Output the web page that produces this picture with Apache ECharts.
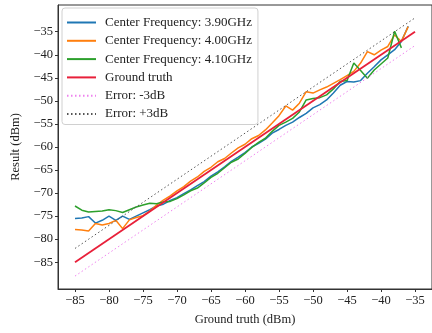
<!DOCTYPE html>
<html>
<head>
<meta charset="utf-8">
<script src="https://cdn.jsdelivr.net/npm/echarts@6/dist/echarts.min.js"></script>
<style>
  html, body { margin: 0; padding: 0; background: #fff; }
  #chart { width: 432px; height: 333px; }
</style>
</head>
<body>
<div id="chart"></div>
<script>
// measured x positions (dBm)
const xs = [-85, -84, -83, -82, -81, -80, -79, -78, -77, -76, -75, -74, -73, -72, -71, -70, -69, -68, -67, -66,
  -65, -64, -63, -62, -61, -60, -59, -58, -57, -56, -55, -54, -53, -52, -51, -50, -49, -48, -47, -46,
  -45, -44, -43, -42, -41, -40, -39, -38, -37, -36]

const f390 = [-75.5, -75.4, -75.1, -76.5, -75.9, -75.0, -75.9, -75.0, -75.7, -75.0, -74.3, -73.6, -72.8, -72.4, -71.6, -71.0, -70.1, -69.3, -68.4, -67.5,
  -66.3, -65.4, -64.3, -63.1, -62.2, -61.2, -60.0, -59.2, -58.3, -57.0, -56.2, -55.3, -54.6, -53.6, -52.7, -51.5, -50.8, -49.8, -48.3, -46.6,
  -45.8, -45.9, -45.6, -44.0, -42.6, -41.1, -40.0, -38.9, -37.1, -33.8]

const f400 = [-77.9, -78.0, -78.2, -76.6, -76.9, -76.6, -75.9, -77.7, -75.8, -75.3, -74.9, -73.9, -72.6, -71.5, -70.6, -69.5, -68.6, -67.4, -66.5, -65.3,
  -64.4, -63.2, -62.5, -61.3, -60.2, -59.4, -58.2, -57.5, -56.3, -54.8, -53.2, -51.1, -52.0, -50.5, -48.0, -48.3, -47.6, -47.0, -46.2, -45.4,
  -44.5, -43.6, -41.8, -39.3, -40.0, -39.0, -38.2, -35.7, -37.1, -33.9]

const f410 = [-72.8, -73.7, -74.1, -74.0, -73.9, -73.6, -73.8, -74.2, -73.6, -73.0, -72.6, -72.2, -72.3, -71.9, -71.8, -71.2, -70.4, -69.5, -68.9, -67.8,
  -66.6, -65.7, -64.5, -63.3, -62.6, -61.4, -60.1, -59.0, -58.1, -56.6, -55.3, -54.6, -53.8, -52.4, -49.8, -49.5, -49.3, -48.7, -47.4, -45.8,
  -45.6, -41.8, -43.4, -45.1, -43.3, -42.0, -40.7, -34.9, -38.5]

// reference lines (end points)
const gtX = [-85, -35]
const gtY = [-85, -35]
const errLowY = [-88, -38]
const errHighY = [-82, -32]

const ticks = [-85, -80, -75, -70, -65, -60, -55, -50, -45, -40, -35]

const pair = (x, y) => y.map((v, i) => [x[i], v])
const minus = v => String(v).replace('-', '\u2212')
const font = 'Liberation Serif'

const chart = echarts.init(document.getElementById('chart'))

const lineSeries = (name, data, color, width, type) => ({
  name,
  type: 'line',
  data,
  symbol: 'none',
  showSymbol: false,
  animation: false,
  lineStyle: { color, width, type: type || 'solid' },
  itemStyle: { color },
  z: 3
})

const axisCommon = {
  type: 'value',
  splitLine: { show: false },
  axisLine: { show: true, onZero: false, lineStyle: { color: '#333', width: 1 } },
  axisTick: { show: true, length: 3, customValues: ticks, lineStyle: { color: '#333' } },
  axisLabel: {
    customValues: ticks,
    formatter: minus,
    color: '#222',
    fontFamily: font,
    fontSize: 12.5,
    margin: 5
  },
  nameTextStyle: { fontFamily: font, fontSize: 12.5, color: '#222' }
}

chart.setOption({
  animation: false,
  grid: {
    left: 58, top: 5, right: -6, bottom: 44,
    show: true, borderColor: '#333', borderWidth: 1
  },
  legend: {
    orient: 'vertical',
    left: 62, top: 8,
    itemWidth: 29, itemHeight: 12,
    itemGap: 5.3,
    padding: [8, 6, 4, 4],
    backgroundColor: 'rgba(255,255,255,0.85)',
    borderColor: '#d0d0d0', borderWidth: 1, borderRadius: 3,
    itemStyle: { opacity: 0 },
    textStyle: { fontFamily: font, fontSize: 13, color: '#222', padding: [0, 0, 0, 4] },
    data: ['Center Frequency: 3.90GHz', 'Center Frequency: 4.00GHz', 'Center Frequency: 4.10GHz',
      'Ground truth', 'Error: -3dB', 'Error: +3dB']
  },
  xAxis: Object.assign({}, axisCommon, {
    min: -87.5, max: -32.5,
    name: 'Ground truth (dBm)', nameLocation: 'middle', nameGap: 24
  }),
  yAxis: Object.assign({}, axisCommon, {
    min: -90.8, max: -29.2,
    name: 'Result (dBm)', nameLocation: 'middle', nameGap: 33
  }),
  series: [
    lineSeries('Center Frequency: 3.90GHz', pair(xs, f390), '#1f77b4', 1.5),
    lineSeries('Center Frequency: 4.00GHz', pair(xs, f400), '#ff7f0e', 1.5),
    lineSeries('Center Frequency: 4.10GHz', pair(xs, f410), '#2ca02c', 1.5),
    lineSeries('Ground truth', pair(gtX, gtY), '#e8203a', 1.8),
    lineSeries('Error: -3dB', pair(gtX, errLowY), '#ee82ee', 1, [1.5, 2.5]),
    lineSeries('Error: +3dB', pair(gtX, errHighY), '#555555', 1, [1.5, 2.5])
  ]
})
</script>
</body>
</html>
